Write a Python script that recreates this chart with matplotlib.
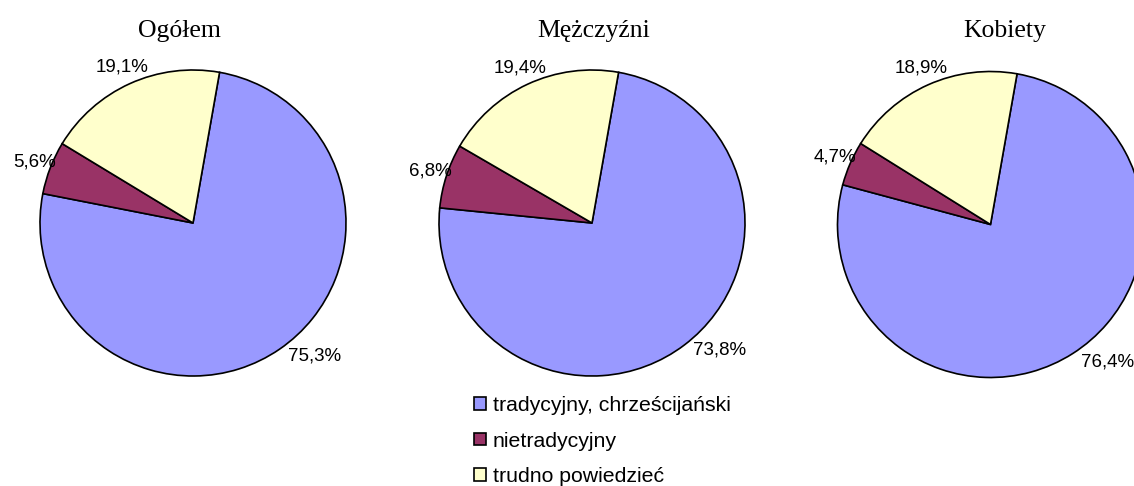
import numpy as np
import matplotlib
matplotlib.use("Agg")
import matplotlib.pyplot as plt

# data
categories = ["tradycyjny, chrześcijański", "nietradycyjny", "trudno powiedzieć"]
groups = ["Ogółem", "Mężczyźni", "Kobiety"]
ogolem = [75.3, 5.6, 19.1]
mezczyzni = [73.8, 6.8, 19.4]
kobiety = [76.4, 4.7, 18.9]

colors = ["#9999FF", "#993366", "#FFFFCC"]

W, H = 1134, 486
R = 153  # pie radius in pixels
centers = [(193, 223), (592, 223), (990.5, 224.5)]
title_x = [179.5, 593.5, 1005]
# Excel nudged the big-slice labels a bit, the small ones sit on the mid angle
label_shift = [8, 0, 0]
label_dist = [1.18, 1.11, 1.12]

fig = plt.figure(figsize=(W / 100, H / 100), dpi=100)

for name, vals, (cx, cy), tx in zip(groups, [ogolem, mezczyzni, kobiety], centers, title_x):
    ax = fig.add_axes([(cx - R) / W, (H - cy - R) / H, 2 * R / W, 2 * R / H])
    wedges, _ = ax.pie(vals, colors=colors, startangle=80, counterclock=False,
                       radius=1, wedgeprops=dict(edgecolor="black", linewidth=1.2))
    ax.set_xlim(-1, 1)
    ax.set_ylim(-1, 1)
    ax.set_aspect("equal")
    ax.axis("off")
    for w, v, sh, d in zip(wedges, vals, label_shift, label_dist):
        mid = np.deg2rad((w.theta1 + w.theta2) / 2 + sh)
        ax.text(d * np.cos(mid), d * np.sin(mid), f"{v:.1f}".replace(".", ",") + "%",
                ha="center", va="center", fontsize=13.5, family="Liberation Sans",
                clip_on=False)
    fig.text(tx / W, 1 - 37 / H, name, ha="center", va="baseline",
             fontsize=18.5, family="Liberation Serif")

handles = [plt.Rectangle((0, 0), 1, 1, facecolor=c, edgecolor="black", linewidth=1.2)
           for c in colors]
fig.legend(handles, categories, loc="center left", bbox_to_anchor=(474 / W, 1 - 441 / H),
           frameon=False, borderpad=0, borderaxespad=0, handlelength=0.55, handleheight=0.55,
           handletextpad=0.33, labelspacing=0.78,
           prop=dict(family="Liberation Sans", size=15.3))

fig.savefig("out.png", dpi=100)
